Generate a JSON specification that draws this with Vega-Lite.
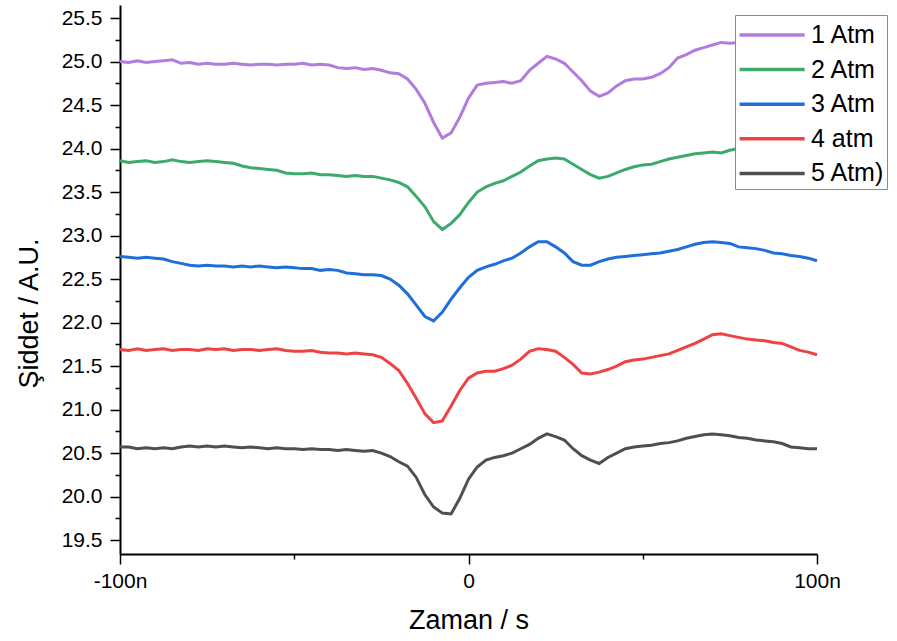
{
  "$schema": "https://vega.github.io/schema/vega-lite/v6.json",
  "width": 697,
  "height": 549,
  "autosize": "none",
  "padding": {"left": 120, "top": 5, "right": 80, "bottom": 87},
  "background": "white",
  "config": {
    "view": {"stroke": null},
    "font": "Liberation Sans",
    "axis": {"grid": false, "domainColor": "black", "tickColor": "black", "labelColor": "black", "titleColor": "black", "titleFontWeight": "normal"}
  },
  "datasets": {
    "s1": [
      {"t":-100,"v":25.00},{"t":-97.5,"v":24.99},{"t":-95,"v":25.01},{"t":-92.5,"v":24.99},{"t":-90,"v":25.00},{"t":-87.5,"v":25.01},{"t":-85,"v":25.02},{"t":-82.5,"v":24.98},{"t":-80,"v":24.99},{"t":-77.5,"v":24.97},{"t":-75,"v":24.98},{"t":-72.5,"v":24.97},{"t":-70,"v":24.97},{"t":-67.5,"v":24.98},{"t":-65,"v":24.97},{"t":-62.5,"v":24.96},{"t":-60,"v":24.97},{"t":-57.5,"v":24.97},{"t":-55,"v":24.96},{"t":-52.5,"v":24.97},{"t":-50,"v":24.97},{"t":-47.5,"v":24.98},{"t":-45,"v":24.96},{"t":-42.5,"v":24.97},{"t":-40,"v":24.96},{"t":-37.5,"v":24.93},{"t":-35,"v":24.92},{"t":-32.5,"v":24.93},{"t":-30,"v":24.91},{"t":-27.5,"v":24.92},{"t":-25,"v":24.90},{"t":-22.5,"v":24.87},{"t":-20,"v":24.86},{"t":-17.5,"v":24.80},{"t":-15,"v":24.68},{"t":-12.5,"v":24.52},{"t":-10,"v":24.30},{"t":-7.5,"v":24.12},{"t":-5,"v":24.18},{"t":-2.5,"v":24.36},{"t":0,"v":24.58},{"t":2.5,"v":24.73},{"t":5,"v":24.75},{"t":7.5,"v":24.76},{"t":10,"v":24.77},{"t":12.5,"v":24.75},{"t":15,"v":24.78},{"t":17.5,"v":24.90},{"t":20,"v":24.98},{"t":22.5,"v":25.06},{"t":25,"v":25.03},{"t":27.5,"v":24.98},{"t":30,"v":24.88},{"t":32.5,"v":24.78},{"t":35,"v":24.66},{"t":37.5,"v":24.60},{"t":40,"v":24.64},{"t":42.5,"v":24.72},{"t":45,"v":24.78},{"t":47.5,"v":24.80},{"t":50,"v":24.80},{"t":52.5,"v":24.82},{"t":55,"v":24.86},{"t":57.5,"v":24.93},{"t":60,"v":25.04},{"t":62.5,"v":25.08},{"t":65,"v":25.13},{"t":67.5,"v":25.16},{"t":70,"v":25.19},{"t":72.5,"v":25.22},{"t":75,"v":25.21},{"t":77.5,"v":25.22},{"t":80,"v":25.24},{"t":82.5,"v":25.23},{"t":85,"v":25.25},{"t":87.5,"v":25.24},{"t":90,"v":25.26},{"t":92.5,"v":25.25},{"t":95,"v":25.27},{"t":97.5,"v":25.26},{"t":100,"v":25.27}
    ],
    "s2": [
      {"t":-100,"v":23.86},{"t":-97.5,"v":23.84},{"t":-95,"v":23.85},{"t":-92.5,"v":23.86},{"t":-90,"v":23.84},{"t":-87.5,"v":23.85},{"t":-85,"v":23.87},{"t":-82.5,"v":23.85},{"t":-80,"v":23.84},{"t":-77.5,"v":23.85},{"t":-75,"v":23.86},{"t":-72.5,"v":23.85},{"t":-70,"v":23.84},{"t":-67.5,"v":23.83},{"t":-65,"v":23.80},{"t":-62.5,"v":23.78},{"t":-60,"v":23.77},{"t":-57.5,"v":23.76},{"t":-55,"v":23.75},{"t":-52.5,"v":23.72},{"t":-50,"v":23.71},{"t":-47.5,"v":23.71},{"t":-45,"v":23.72},{"t":-42.5,"v":23.70},{"t":-40,"v":23.70},{"t":-37.5,"v":23.69},{"t":-35,"v":23.68},{"t":-32.5,"v":23.69},{"t":-30,"v":23.68},{"t":-27.5,"v":23.68},{"t":-25,"v":23.66},{"t":-22.5,"v":23.64},{"t":-20,"v":23.61},{"t":-17.5,"v":23.56},{"t":-15,"v":23.45},{"t":-12.5,"v":23.33},{"t":-10,"v":23.16},{"t":-7.5,"v":23.07},{"t":-5,"v":23.14},{"t":-2.5,"v":23.24},{"t":0,"v":23.38},{"t":2.5,"v":23.50},{"t":5,"v":23.56},{"t":7.5,"v":23.60},{"t":10,"v":23.63},{"t":12.5,"v":23.68},{"t":15,"v":23.73},{"t":17.5,"v":23.80},{"t":20,"v":23.86},{"t":22.5,"v":23.88},{"t":25,"v":23.89},{"t":27.5,"v":23.88},{"t":30,"v":23.82},{"t":32.5,"v":23.76},{"t":35,"v":23.70},{"t":37.5,"v":23.66},{"t":40,"v":23.68},{"t":42.5,"v":23.72},{"t":45,"v":23.76},{"t":47.5,"v":23.79},{"t":50,"v":23.81},{"t":52.5,"v":23.82},{"t":55,"v":23.85},{"t":57.5,"v":23.88},{"t":60,"v":23.90},{"t":62.5,"v":23.92},{"t":65,"v":23.94},{"t":67.5,"v":23.95},{"t":70,"v":23.96},{"t":72.5,"v":23.95},{"t":75,"v":23.98},{"t":77.5,"v":24.00},{"t":80,"v":24.01},{"t":82.5,"v":24.02},{"t":85,"v":24.02},{"t":87.5,"v":24.03},{"t":90,"v":24.04},{"t":92.5,"v":24.04},{"t":95,"v":24.05},{"t":97.5,"v":24.06},{"t":100,"v":24.06}
    ],
    "s3": [
      {"t":-100,"v":22.76},{"t":-97.5,"v":22.75},{"t":-95,"v":22.74},{"t":-92.5,"v":22.75},{"t":-90,"v":22.74},{"t":-87.5,"v":22.73},{"t":-85,"v":22.70},{"t":-82.5,"v":22.68},{"t":-80,"v":22.66},{"t":-77.5,"v":22.65},{"t":-75,"v":22.66},{"t":-72.5,"v":22.65},{"t":-70,"v":22.65},{"t":-67.5,"v":22.64},{"t":-65,"v":22.65},{"t":-62.5,"v":22.64},{"t":-60,"v":22.65},{"t":-57.5,"v":22.64},{"t":-55,"v":22.63},{"t":-52.5,"v":22.64},{"t":-50,"v":22.63},{"t":-47.5,"v":22.62},{"t":-45,"v":22.62},{"t":-42.5,"v":22.60},{"t":-40,"v":22.61},{"t":-37.5,"v":22.60},{"t":-35,"v":22.57},{"t":-32.5,"v":22.56},{"t":-30,"v":22.55},{"t":-27.5,"v":22.55},{"t":-25,"v":22.54},{"t":-22.5,"v":22.50},{"t":-20,"v":22.43},{"t":-17.5,"v":22.33},{"t":-15,"v":22.20},{"t":-12.5,"v":22.07},{"t":-10,"v":22.02},{"t":-7.5,"v":22.12},{"t":-5,"v":22.27},{"t":-2.5,"v":22.40},{"t":0,"v":22.52},{"t":2.5,"v":22.60},{"t":5,"v":22.64},{"t":7.5,"v":22.67},{"t":10,"v":22.71},{"t":12.5,"v":22.74},{"t":15,"v":22.80},{"t":17.5,"v":22.87},{"t":20,"v":22.93},{"t":22.5,"v":22.93},{"t":25,"v":22.87},{"t":27.5,"v":22.80},{"t":30,"v":22.70},{"t":32.5,"v":22.66},{"t":35,"v":22.66},{"t":37.5,"v":22.70},{"t":40,"v":22.73},{"t":42.5,"v":22.75},{"t":45,"v":22.76},{"t":47.5,"v":22.77},{"t":50,"v":22.78},{"t":52.5,"v":22.79},{"t":55,"v":22.80},{"t":57.5,"v":22.82},{"t":60,"v":22.84},{"t":62.5,"v":22.87},{"t":65,"v":22.90},{"t":67.5,"v":22.92},{"t":70,"v":22.93},{"t":72.5,"v":22.92},{"t":75,"v":22.91},{"t":77.5,"v":22.87},{"t":80,"v":22.86},{"t":82.5,"v":22.85},{"t":85,"v":22.83},{"t":87.5,"v":22.80},{"t":90,"v":22.79},{"t":92.5,"v":22.77},{"t":95,"v":22.76},{"t":97.5,"v":22.74},{"t":100,"v":22.71}
    ],
    "s4": [
      {"t":-100,"v":21.69},{"t":-97.5,"v":21.68},{"t":-95,"v":21.70},{"t":-92.5,"v":21.68},{"t":-90,"v":21.69},{"t":-87.5,"v":21.70},{"t":-85,"v":21.68},{"t":-82.5,"v":21.69},{"t":-80,"v":21.69},{"t":-77.5,"v":21.68},{"t":-75,"v":21.70},{"t":-72.5,"v":21.69},{"t":-70,"v":21.70},{"t":-67.5,"v":21.68},{"t":-65,"v":21.69},{"t":-62.5,"v":21.69},{"t":-60,"v":21.68},{"t":-57.5,"v":21.69},{"t":-55,"v":21.70},{"t":-52.5,"v":21.68},{"t":-50,"v":21.67},{"t":-47.5,"v":21.67},{"t":-45,"v":21.68},{"t":-42.5,"v":21.66},{"t":-40,"v":21.65},{"t":-37.5,"v":21.65},{"t":-35,"v":21.64},{"t":-32.5,"v":21.65},{"t":-30,"v":21.64},{"t":-27.5,"v":21.63},{"t":-25,"v":21.60},{"t":-22.5,"v":21.53},{"t":-20,"v":21.45},{"t":-17.5,"v":21.30},{"t":-15,"v":21.13},{"t":-12.5,"v":20.95},{"t":-10,"v":20.85},{"t":-7.5,"v":20.87},{"t":-5,"v":21.04},{"t":-2.5,"v":21.22},{"t":0,"v":21.36},{"t":2.5,"v":21.42},{"t":5,"v":21.44},{"t":7.5,"v":21.44},{"t":10,"v":21.47},{"t":12.5,"v":21.51},{"t":15,"v":21.58},{"t":17.5,"v":21.67},{"t":20,"v":21.70},{"t":22.5,"v":21.69},{"t":25,"v":21.67},{"t":27.5,"v":21.60},{"t":30,"v":21.52},{"t":32.5,"v":21.42},{"t":35,"v":21.41},{"t":37.5,"v":21.43},{"t":40,"v":21.46},{"t":42.5,"v":21.50},{"t":45,"v":21.55},{"t":47.5,"v":21.57},{"t":50,"v":21.58},{"t":52.5,"v":21.60},{"t":55,"v":21.62},{"t":57.5,"v":21.64},{"t":60,"v":21.68},{"t":62.5,"v":21.72},{"t":65,"v":21.76},{"t":67.5,"v":21.81},{"t":70,"v":21.86},{"t":72.5,"v":21.87},{"t":75,"v":21.85},{"t":77.5,"v":21.83},{"t":80,"v":21.81},{"t":82.5,"v":21.80},{"t":85,"v":21.79},{"t":87.5,"v":21.77},{"t":90,"v":21.76},{"t":92.5,"v":21.72},{"t":95,"v":21.68},{"t":97.5,"v":21.66},{"t":100,"v":21.63}
    ],
    "s5": [
      {"t":-100,"v":20.57},{"t":-97.5,"v":20.57},{"t":-95,"v":20.55},{"t":-92.5,"v":20.56},{"t":-90,"v":20.55},{"t":-87.5,"v":20.56},{"t":-85,"v":20.55},{"t":-82.5,"v":20.57},{"t":-80,"v":20.58},{"t":-77.5,"v":20.57},{"t":-75,"v":20.58},{"t":-72.5,"v":20.57},{"t":-70,"v":20.58},{"t":-67.5,"v":20.57},{"t":-65,"v":20.56},{"t":-62.5,"v":20.57},{"t":-60,"v":20.56},{"t":-57.5,"v":20.55},{"t":-55,"v":20.56},{"t":-52.5,"v":20.55},{"t":-50,"v":20.55},{"t":-47.5,"v":20.54},{"t":-45,"v":20.55},{"t":-42.5,"v":20.54},{"t":-40,"v":20.54},{"t":-37.5,"v":20.53},{"t":-35,"v":20.54},{"t":-32.5,"v":20.53},{"t":-30,"v":20.52},{"t":-27.5,"v":20.53},{"t":-25,"v":20.50},{"t":-22.5,"v":20.46},{"t":-20,"v":20.40},{"t":-17.5,"v":20.35},{"t":-15,"v":20.22},{"t":-12.5,"v":20.02},{"t":-10,"v":19.88},{"t":-7.5,"v":19.81},{"t":-5,"v":19.80},{"t":-2.5,"v":19.98},{"t":0,"v":20.20},{"t":2.5,"v":20.34},{"t":5,"v":20.42},{"t":7.5,"v":20.45},{"t":10,"v":20.47},{"t":12.5,"v":20.50},{"t":15,"v":20.55},{"t":17.5,"v":20.60},{"t":20,"v":20.67},{"t":22.5,"v":20.72},{"t":25,"v":20.69},{"t":27.5,"v":20.65},{"t":30,"v":20.55},{"t":32.5,"v":20.47},{"t":35,"v":20.42},{"t":37.5,"v":20.38},{"t":40,"v":20.45},{"t":42.5,"v":20.50},{"t":45,"v":20.55},{"t":47.5,"v":20.57},{"t":50,"v":20.58},{"t":52.5,"v":20.59},{"t":55,"v":20.61},{"t":57.5,"v":20.62},{"t":60,"v":20.64},{"t":62.5,"v":20.67},{"t":65,"v":20.69},{"t":67.5,"v":20.71},{"t":70,"v":20.72},{"t":72.5,"v":20.71},{"t":75,"v":20.70},{"t":77.5,"v":20.68},{"t":80,"v":20.67},{"t":82.5,"v":20.65},{"t":85,"v":20.64},{"t":87.5,"v":20.63},{"t":90,"v":20.61},{"t":92.5,"v":20.57},{"t":95,"v":20.56},{"t":97.5,"v":20.55},{"t":100,"v":20.55}
    ]
  },
  "layer": [
    {
      "encoding": {
        "x": {
          "field": "t", "type": "quantitative",
          "scale": {"domain": [-100, 100], "nice": false, "zero": false},
          "axis": {
            "values": [-100, 0, 100],
            "labelExpr": "datum.value == 0 ? '0' : datum.value + 'n'",
            "labelFlush": false,
            "labelFontSize": 21,
            "labelPadding": 6,
            "tickSize": 10,
            "tickWidth": 1.5,
            "domainWidth": 2,
            "title": "Zaman / s",
            "titleFontSize": 27,
            "titlePadding": 16
          }
        },
        "y": {
          "field": "v", "type": "quantitative",
          "scale": {"domain": [19.34, 25.65], "nice": false, "zero": false},
          "axis": {
            "values": [19.5, 20, 20.5, 21, 21.5, 22, 22.5, 23, 23.5, 24, 24.5, 25, 25.5],
            "format": ".1f",
            "labelFontSize": 21,
            "labelPadding": 8,
            "tickSize": 10,
            "tickWidth": 1.5,
            "domainWidth": 2,
            "title": "Şiddet / A.U.",
            "titleFontSize": 27,
            "titleX": -77,
            "titleY": 308
          }
        }
      },
      "layer": [
        {
          "data": {"name": "s1"},
          "mark": {"type": "line", "strokeWidth": 3},
          "encoding": {
            "color": {
              "datum": "1 Atm", "type": "nominal",
              "scale": {
                "domain": ["1 Atm", "2 Atm", "3 Atm", "4 atm", "5 Atm)"],
                "range": ["#B07CDE", "#3DAA6B", "#1F6FDB", "#EF4343", "#4F4F4F"]
              },
              "legend": {
                "title": null,
                "orient": "none",
                "legendX": 615,
                "legendY": 10,
                "padding": 2,
                "strokeColor": "#8a8a8a",
                "fillColor": "white",
                "symbolType": "M-0.975,0H3.14",
                "symbolSize": 1000,
                "symbolStrokeWidth": 3.5,
                "labelFontSize": 25,
                "labelColor": "black",
                "labelOffset": 38,
                "rowPadding": 3.6
              }
            }
          }
        },
        {"data": {"name": "s2"}, "mark": {"type": "line", "strokeWidth": 3}, "encoding": {"color": {"datum": "2 Atm", "type": "nominal"}}},
        {"data": {"name": "s3"}, "mark": {"type": "line", "strokeWidth": 3}, "encoding": {"color": {"datum": "3 Atm", "type": "nominal"}}},
        {"data": {"name": "s4"}, "mark": {"type": "line", "strokeWidth": 3}, "encoding": {"color": {"datum": "4 atm", "type": "nominal"}}},
        {"data": {"name": "s5"}, "mark": {"type": "line", "strokeWidth": 3}, "encoding": {"color": {"datum": "5 Atm)", "type": "nominal"}}}
      ]
    },
    {
      "data": {"name": "s1"},
      "mark": {"type": "line", "opacity": 0},
      "encoding": {
        "x": {
          "field": "t", "type": "quantitative",
          "axis": {"orient": "bottom", "values": [-50, 50], "labels": false, "domain": false, "title": null, "tickSize": 5, "tickWidth": 1.5}
        },
        "y": {
          "field": "v", "type": "quantitative",
          "axis": {"orient": "left", "values": [19.75, 20.25, 20.75, 21.25, 21.75, 22.25, 22.75, 23.25, 23.75, 24.25, 24.75, 25.25], "labels": false, "domain": false, "title": null, "tickSize": 5, "tickWidth": 1.5}
        }
      }
    }
  ],
  "resolve": {"axis": {"x": "independent", "y": "independent"}}
}
